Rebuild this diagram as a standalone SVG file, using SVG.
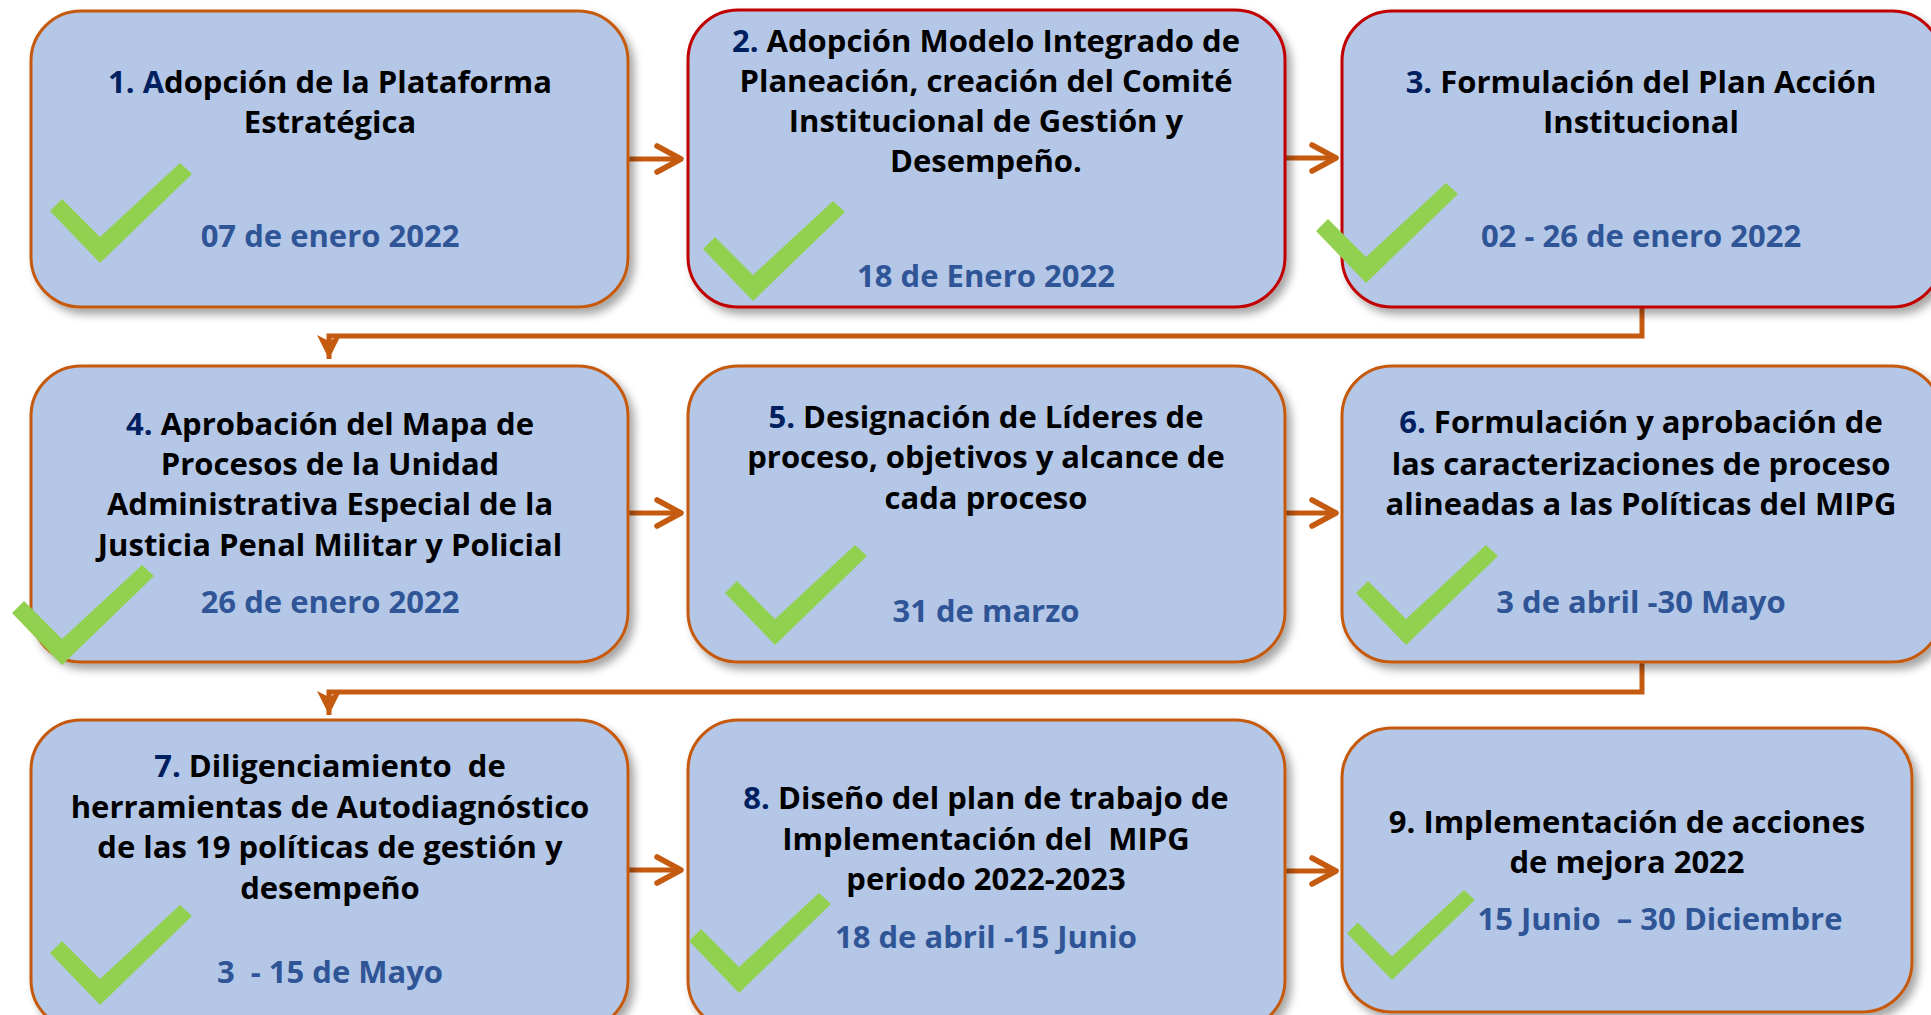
<svg xmlns="http://www.w3.org/2000/svg" width="1931" height="1015" viewBox="0 0 1931 1015">
<defs>
<filter id="sh" x="-10%" y="-10%" width="125%" height="130%">
<feDropShadow dx="5" dy="6" stdDeviation="4" flood-color="#000" flood-opacity="0.35"/>
</filter>
<polygon id="chk" points="0,0 -50,-52 -38,-64 0,-26 80,-100 92,-89"/>
<marker id="chev" markerUnits="userSpaceOnUse" markerWidth="34" markerHeight="34" viewBox="0 0 34 34" refX="30" refY="17" orient="auto">
<path d="M6,4 L30,17 L6,30" fill="none" stroke="#C55A11" stroke-width="5.5" stroke-linecap="round" stroke-linejoin="round"/>
</marker>
<marker id="tri" markerUnits="userSpaceOnUse" markerWidth="30" markerHeight="30" viewBox="0 0 30 30" refX="26" refY="15" orient="auto">
<path d="M2,3 L26,15 L2,27 L8,15 z" fill="#C55A11"/>
</marker>
</defs>
<style>
.box{fill:#B4C7E7;stroke:#C55A11;stroke-width:3;filter:url(#sh)}
.red{stroke:#C00000}
.t{font-family:"Open Sans","Noto Sans",sans-serif;font-weight:bold;font-size:31px;fill:#000;text-anchor:middle}
.n{fill:#002060}
.d{fill:#2F5597}
.ck{fill:#92D050}
.c{fill:none;stroke:#C55A11;stroke-width:5}
</style>
<rect width="1931" height="1015" fill="#fff"/>
<g id="connectors">
<path class="c" d="M629,159 H681" marker-end="url(#chev)"/>
<path class="c" d="M1286,158 H1336" marker-end="url(#chev)"/>
<path class="c" d="M629,513 H681" marker-end="url(#chev)"/>
<path class="c" d="M1286,513 H1336" marker-end="url(#chev)"/>
<path class="c" d="M629,870 H681" marker-end="url(#chev)"/>
<path class="c" d="M1286,871 H1336" marker-end="url(#chev)"/>
<path class="c" d="M1642,307 V336 H329 V359" marker-end="url(#tri)"/>
<path class="c" d="M1642,662 V692 H329 V715" marker-end="url(#tri)"/>
</g>
<g id="node1">
<rect class="box" x="31" y="11" width="597" height="296" rx="50"/>
<text class="t" x="330" y="93"><tspan class="n">1. A</tspan>dopción de la Plataforma</text>
<text class="t" x="330" y="133">Estratégica</text>
<use href="#chk" class="ck" x="100" y="263"/>
<text class="t d" x="330" y="247">07 de enero 2022</text>
</g>
<g id="node2">
<rect class="box red" x="688" y="10" width="597" height="297" rx="50"/>
<text class="t" x="986" y="52"><tspan class="n">2.</tspan> Adopción Modelo Integrado de</text>
<text class="t" x="986" y="92">Planeación, creación del Comité</text>
<text class="t" x="986" y="132">Institucional de Gestión y</text>
<text class="t" x="986" y="172">Desempeño.</text>
<use href="#chk" class="ck" x="753" y="301"/>
<text class="t d" x="986" y="287">18 de Enero 2022</text>
</g>
<g id="node3">
<rect class="box red" x="1342" y="11" width="600" height="296" rx="50"/>
<text class="t" x="1641" y="93"><tspan class="n">3.</tspan> Formulación del Plan Acción</text>
<text class="t" x="1641" y="133">Institucional</text>
<use href="#chk" class="ck" x="1366" y="283"/>
<text class="t d" x="1641" y="247">02 - 26 de enero 2022</text>
</g>
<g id="node4">
<rect class="box" x="31" y="366" width="597" height="296" rx="50"/>
<text class="t" x="330" y="435"><tspan class="n">4.</tspan> Aprobación del Mapa de</text>
<text class="t" x="330" y="475">Procesos de la Unidad</text>
<text class="t" x="330" y="515">Administrativa Especial de la</text>
<text class="t" x="330" y="556">Justicia Penal Militar y Policial</text>
<use href="#chk" class="ck" x="62" y="665"/>
<text class="t d" x="330" y="613">26 de enero 2022</text>
</g>
<g id="node5">
<rect class="box" x="688" y="366" width="597" height="296" rx="50"/>
<text class="t" x="986" y="428"><tspan class="n">5.</tspan> Designación de Líderes de</text>
<text class="t" x="986" y="468">proceso, objetivos y alcance de</text>
<text class="t" x="986" y="509">cada proceso</text>
<use href="#chk" class="ck" x="775" y="645"/>
<text class="t d" x="986" y="622">31 de marzo</text>
</g>
<g id="node6">
<rect class="box" x="1342" y="366" width="600" height="296" rx="50"/>
<text class="t" x="1641" y="433"><tspan class="n">6.</tspan> Formulación y aprobación de</text>
<text class="t" x="1641" y="475">las caracterizaciones de proceso</text>
<text class="t" x="1641" y="515">alineadas a las Políticas del MIPG</text>
<use href="#chk" class="ck" x="1406" y="645"/>
<text class="t d" x="1641" y="613">3 de abril -30 Mayo</text>
</g>
<g id="node7">
<rect class="box" x="31" y="720" width="597" height="310" rx="50"/>
<text class="t" x="330" y="777" xml:space="preserve"><tspan class="n">7.</tspan> Diligenciamiento  de</text>
<text class="t" x="330" y="818">herramientas de Autodiagnóstico</text>
<text class="t" x="330" y="858">de las 19 políticas de gestión y</text>
<text class="t" x="330" y="899">desempeño</text>
<use href="#chk" class="ck" x="100" y="1005"/>
<text class="t d" x="330" y="983" xml:space="preserve">3  - 15 de Mayo</text>
</g>
<g id="node8">
<rect class="box" x="688" y="720" width="597" height="310" rx="50"/>
<text class="t" x="986" y="809"><tspan class="n">8.</tspan> Diseño del plan de trabajo de</text>
<text class="t" x="986" y="850" xml:space="preserve">Implementación del  MIPG</text>
<text class="t" x="986" y="890">periodo 2022-2023</text>
<use href="#chk" class="ck" x="739" y="993"/>
<text class="t d" x="986" y="948">18 de abril -15 Junio</text>
</g>
<g id="node9">
<rect class="box" x="1342" y="728" width="570" height="284" rx="50"/>
<text class="t" x="1627" y="833">9. Implementación de acciones</text>
<text class="t" x="1627" y="873">de mejora 2022</text>
<use href="#chk" class="ck" transform="translate(1392,980) scale(0.9)"/>
<text class="t d" x="1660" y="930" xml:space="preserve">15 Junio  – 30 Diciembre</text>
</g>
</svg>
